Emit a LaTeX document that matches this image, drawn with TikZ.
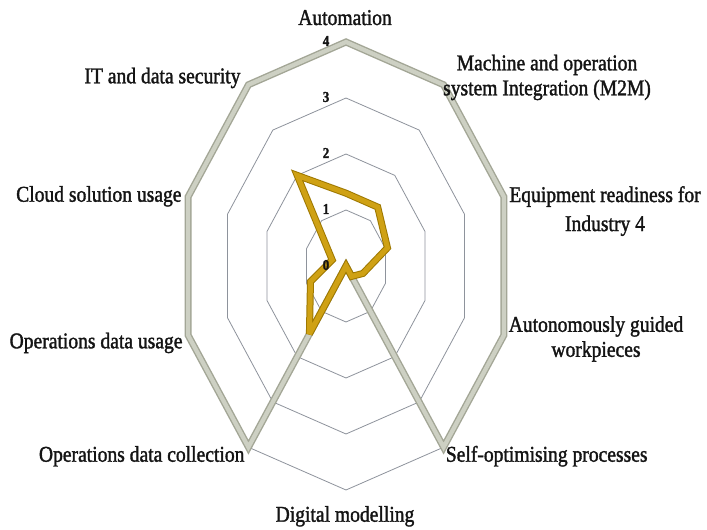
\documentclass[tikz,border=0pt]{standalone}
\usepackage{fontspec}
\setmainfont[FakeStretch=0.87, FakeBold=1.5]{Liberation Serif}
\definecolor{gridline}{HTML}{8E939C}
\definecolor{benchedge}{HTML}{A3A696}
\definecolor{benchcore}{HTML}{CDD0C3}
\definecolor{scoreedge}{HTML}{9E7800}
\definecolor{scorecore}{HTML}{CFA114}
\begin{document}
\begin{tikzpicture}[x=1pt,y=1pt,
  ring/.style={draw=gridline, line width=0.8pt},
  benchout/.style={draw=benchedge, line width=7pt, line join=miter, miter limit=4},
  benchin/.style={draw=benchcore, line width=4.2pt, line join=miter, miter limit=4},
  scoreout/.style={draw=scoreedge, line width=7pt, line join=miter, miter limit=4},
  scorein/.style={draw=scorecore, line width=5pt, line join=miter, miter limit=4},
  axislabel/.style={font=\fontsize{22.5}{25}\selectfont, text=black!92, inner sep=0pt, align=center},
  ticklabel/.style={font=\fontsize{15}{15}\selectfont\bfseries, text=black!92, inner sep=0pt}
]
\useasboundingbox (0,0) rectangle (707,530);
\fill[white] (0,0) rectangle (707,530);

% radar geometry: centre and length of one scale unit along x and y
\def\cx{346}\def\cy{264}\def\ux{41.5}\def\uy{56}

% grid rings at scale values 1..4
\foreach \r in {1,...,4}
  \draw[ring] ({\cx},{\cy+\uy*\r})
    \foreach \a in {54,18,-18,-54,-90,-126,-162,-198,-234}
      { -- ({\cx+\ux*\r*cos(\a)},{\cy+\uy*\r*sin(\a)}) } -- cycle;

% series points, axes clockwise from the top
\foreach \v [count=\i from 0] in {4,4,4,4,4,0,4,4,4,4}
  \coordinate (b\i) at ({\cx+\ux*\v*cos(90-36*\i)},{\cy+\uy*\v*sin(90-36*\i)});
\foreach \v [count=\i from 0] in {1.3,1.3,1.05,0.43,0.23,0,1.5,0.9,0.35,2}
  \coordinate (s\i) at ({\cx+\ux*\v*cos(90-36*\i)},{\cy+\uy*\v*sin(90-36*\i)});

% target series
\draw[benchout] (b0)--(b1)--(b2)--(b3)--(b4)--(b5)--(b6)--(b7)--(b8)--(b9)--cycle;
\draw[benchin]  (b0)--(b1)--(b2)--(b3)--(b4)--(b5)--(b6)--(b7)--(b8)--(b9)--cycle;

% current state series
\draw[scoreout] (s0)--(s1)--(s2)--(s3)--(s4)--(s5)--(s6)--(s7)--(s8)--(s9)--cycle;
\draw[scorein]  (s0)--(s1)--(s2)--(s3)--(s4)--(s5)--(s6)--(s7)--(s8)--(s9)--cycle;

% scale values
\foreach \k in {0,...,4}
  \node[ticklabel] (tick\k) at (326,{\cy+\uy*\k+1}) {\k};

% axis names
\node[axislabel, anchor=base] (automation) at (345,505) {Automation};
\node[axislabel, anchor=north] (m2m) at (547,475.5) {Machine and operation\\system Integration (M2M)};
\node[axislabel, anchor=north] (equip) at (605,344) {Equipment readiness for\\[4pt]Industry 4};
\node[axislabel, anchor=north] (agw) at (596,214) {Autonomously guided\\workpieces};
\node[axislabel, anchor=base] (selfopt) at (546.7,68.3) {Self-optimising processes};
\node[axislabel, anchor=base] (digital) at (345,8.3) {Digital modelling};
\node[axislabel, anchor=base] (opscoll) at (141.7,68.3) {Operations data collection};
\node[axislabel, anchor=base east] (opsuse) at (182.7,181.7) {Operations data usage};
\node[axislabel, anchor=base east] (cloud) at (181.7,328.3) {Cloud solution usage};
\node[axislabel, anchor=base east] (itsec) at (240.7,446.7) {IT and data security};
\end{tikzpicture}
\end{document}
